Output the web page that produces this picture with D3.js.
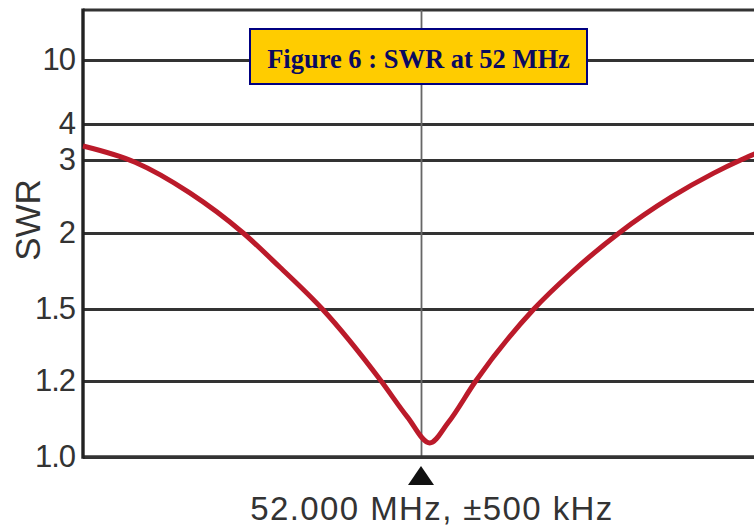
<!DOCTYPE html>
<html>
<head>
<meta charset="utf-8">
<script src="https://cdn.jsdelivr.net/npm/d3@7"></script>
<style>
  html, body { margin: 0; padding: 0; background: #fff; }
  svg { display: block; }
</style>
</head>
<body>
<script>
// ---- data ----
const freqOffsetKHz = [-500, -423, -342, -263, -209, -146, -59, -20, 13, 40, 81, 167, 222, 293, 370, 433, 473, 500];
const swrValues     = [3.39, 2.97, 2.55, 2.0, 1.776, 1.5, 1.2, 1.105, 1.037, 1.09, 1.2, 1.5, 1.737, 2.0, 2.49, 2.82, 3.0, 3.22];
const swrTicks      = [1.0, 1.2, 1.5, 2, 3, 4, 10];
const swrTickLabels = ["1.0", "1.2", "1.5", "2", "3", "4", "10"];
const centerTick    = [0];
const titleText     = "Figure 6 : SWR at 52 MHz";
const xLabelText    = "52.000 MHz, \u00b1500 kHz";
const yLabelText    = "SWR";

// ---- layout ----
const W = 754, H = 529;
const plotLeft = 83, plotTop = 10, plotBottom = 457, plotRightFull = 759;

const svg = d3.select("body").append("svg").attr("width", W).attr("height", H);

const x = d3.scaleLinear().domain([-500, 500]).range([plotLeft, plotRightFull]);
const y = d3.scaleLinear()
  .domain(swrTicks)
  .range([457, 381, 309, 233, 160, 124, 60]);

// top border
svg.append("line")
  .attr("x1", plotLeft).attr("x2", W).attr("y1", plotTop).attr("y2", plotTop)
  .attr("stroke", "#333").attr("stroke-width", 3);

// horizontal grid + y labels
const yAxis = d3.axisLeft(y)
  .tickValues(swrTicks)
  .tickFormat((d, i) => swrTickLabels[i])
  .tickSizeInner(-(W - plotLeft))
  .tickSizeOuter(0)
  .tickPadding(8);
const gy = svg.append("g").attr("transform", `translate(${plotLeft},0)`).call(yAxis);
gy.select(".domain").remove();
gy.selectAll(".tick line").attr("stroke", "#333").attr("stroke-width", 2.8);
gy.selectAll(".tick text")
  .attr("font-family", "'Liberation Sans', Arial, sans-serif")
  .attr("font-size", 31)
  .attr("fill", "#333")
  .attr("letter-spacing", -1);

// vertical center line
const xAxis = d3.axisBottom(x)
  .tickValues(centerTick)
  .tickFormat("")
  .tickSizeInner(-(plotBottom - plotTop))
  .tickSizeOuter(0);
const gx = svg.append("g").attr("transform", `translate(0,${plotBottom})`).call(xAxis);
gx.select(".domain").remove();
gx.selectAll(".tick line").attr("stroke", "#666").attr("stroke-width", 1.8);

// bottom axis line
svg.append("line")
  .attr("x1", plotLeft).attr("x2", W).attr("y1", plotBottom).attr("y2", plotBottom)
  .attr("stroke", "#333").attr("stroke-width", 3.4);

// left axis line
svg.append("line")
  .attr("x1", plotLeft).attr("x2", plotLeft).attr("y1", plotTop - 1.5).attr("y2", plotBottom + 1.7)
  .attr("stroke", "#222").attr("stroke-width", 3.4);

// SWR curve
const pts = freqOffsetKHz.map((f, i) => [f, swrValues[i]]);
const line = d3.line()
  .x(d => x(d[0]))
  .y(d => y(d[1]))
  .curve(d3.curveMonotoneX);
svg.append("path")
  .datum(pts)
  .attr("d", line)
  .attr("fill", "none")
  .attr("stroke", "#bb1a2a")
  .attr("stroke-width", 5)
  .attr("stroke-linejoin", "round");

// triangle marker
const cx = x(0);
svg.append("path")
  .attr("d", `M${cx},${466} L${cx + 13},${485} L${cx - 13},${485} Z`)
  .attr("fill", "#111");

// x label
svg.append("text")
  .attr("x", cx + 11).attr("y", 520)
  .attr("text-anchor", "middle")
  .attr("font-family", "'Liberation Sans', Arial, sans-serif")
  .attr("font-size", 33)
  .attr("letter-spacing", 1.4)
  .attr("fill", "#333")
  .text(xLabelText);

// y label
svg.append("text")
  .attr("transform", `translate(40,220) rotate(-90)`)
  .attr("text-anchor", "middle")
  .attr("font-family", "'Liberation Sans', Arial, sans-serif")
  .attr("font-size", 35)
  .attr("fill", "#333")
  .text(yLabelText);

// title box
svg.append("rect")
  .attr("x", 250).attr("y", 29).attr("width", 337).attr("height", 55)
  .attr("fill", "#ffcc00")
  .attr("stroke", "#000080").attr("stroke-width", 2);
svg.append("text")
  .attr("x", 418.5).attr("y", 67.5)
  .attr("text-anchor", "middle")
  .attr("font-family", "'Liberation Serif', 'Times New Roman', serif")
  .attr("font-weight", "bold")
  .attr("font-size", 26.5)
  .attr("fill", "#0a0a60")
  .text(titleText);
</script>
</body>
</html>
